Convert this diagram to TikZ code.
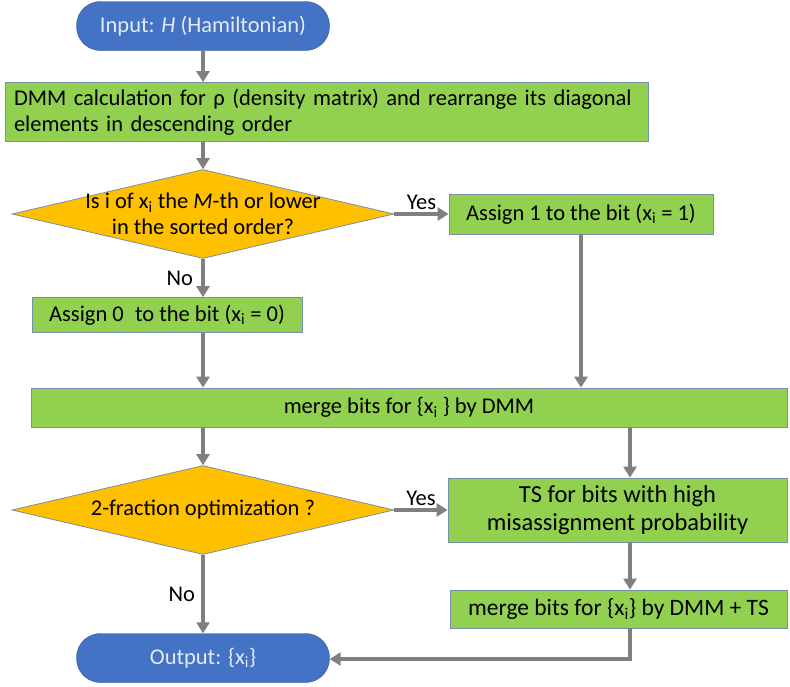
\documentclass[tikz,border=0pt]{standalone}
\usepackage{fontspec}
\setmainfont{Carlito}
\usepackage{tikz}
\usetikzlibrary{arrows.meta}
\usetikzlibrary{calc}
\usetikzlibrary{positioning}
\usetikzlibrary{shapes.geometric}

\definecolor{termblue}{HTML}{4472C4}
\definecolor{termedge}{HTML}{2F528F}
\definecolor{procgreen}{HTML}{92D050}
\definecolor{decorange}{HTML}{FFC000}
\definecolor{boxedge}{HTML}{7890A8}
\definecolor{arrowgray}{HTML}{808080}
\definecolor{termtext}{HTML}{E4EBF7}

\begin{document}
\begin{tikzpicture}[>={Triangle[width=13pt,length=11pt]}, on grid,
  font=\fontsize{22.5pt}{26pt}\selectfont,
  term/.style ={rectangle,rounded corners=24pt,draw=termedge,fill=termblue,text=termtext,minimum width=253pt,minimum height=49pt},
  proc/.style ={rectangle,draw=boxedge,line width=0.8pt,fill=procgreen,text=black,inner sep=0pt},
  decision/.style ={diamond,draw=boxedge,line width=0.8pt,fill=decorange,minimum width=382pt,minimum height=89pt,inner sep=0pt},
  flow/.style ={->,draw=arrowgray,line width=4pt},
  lbl/.style ={text=black,inner sep=2pt}]
\useasboundingbox (0,0) rectangle (790pt,-686pt);
\node[term] (input) at (203pt,-26pt) {Input: \textit{H} (Hamiltonian)};
\node[proc, minimum width=643pt, minimum height=59pt, text width=625pt, align=left] (dmm) [below right=86pt and 123.5pt of input]
  {DMM calculation for ρ (density matrix) and rearrange its diagonal\\elements in descending order};
\node[decision] (q1) [below=188pt of input] {};
\node[align=center, inner sep=0pt] (q1txt) at (q1) {Is i of x\textsubscript{i} the \textit{M}-th or lower\\in the sorted order?};
\node[proc, minimum width=264pt, minimum height=40pt] (one) [right=378pt of q1] {Assign 1 to the bit (x\textsubscript{i} = 1)};
\node[proc, minimum width=270pt, minimum height=35pt] (zero) [below left=101pt and 36pt of q1] {Assign 0\enspace to the bit (x\textsubscript{i} = 0)};
\node[proc, minimum width=756pt, minimum height=39pt] (merge) [below right=193.5pt and 206pt of q1] {merge bits for \{x\textsubscript{i} \} by DMM};
\node[decision] (q2) [below=296pt of q1] {};
\node[inner sep=0pt] (q2txt) at (q2) {2-fraction optimization ?};
\node[proc, minimum width=339pt, minimum height=64pt, align=center, font=\fontsize{24.5pt}{28pt}\selectfont] (ts) [right=414.5pt of q2] {TS for bits with high\\misassignment probability};
\node[proc, minimum width=337pt, minimum height=38pt, font=\fontsize{23.5pt}{26pt}\selectfont] (merge2) [below right=99pt and 1pt of ts] {merge bits for \{x\textsubscript{i}\} by DMM + TS};
\node[term] (output) [below=148pt of q2] {Output: \{x\textsubscript{i}\}};
\coordinate[right=427pt of q2] (rcol);
%left column
\draw[flow] (input.south) -- (input |- dmm.north);
\draw[flow] (input |- dmm.south) -- (q1.north);
\draw[flow] (q1.east) -- node[lbl, above, pos=0.5] {Yes} (one.west);
\draw[flow] (q1.south) -- node[lbl, left, xshift=-6pt] {No} (input |- zero.north);
\draw[flow] (input |- zero.south) -- (input |- merge.north);
\draw[flow] (one.south) -- (one.south |- merge.north);
\draw[flow] (input |- merge.south) -- (q2.north);
%right column
\draw[flow] (rcol |- merge.south) -- (rcol |- ts.north);
\draw[flow] (q2.east) -- node[lbl, above, pos=0.5] {Yes} (q2.east -| ts.west);
\draw[flow] (rcol |- ts.south) -- (rcol |- merge2.north);
\draw[flow] (q2.south) -- node[lbl, left, xshift=-4pt] {No} (output.north);
\draw[flow] (rcol |- merge2.south) -- ($(rcol |- output)+(0,-1pt)$) -- ($(output.east)+(0,-1pt)$);
\end{tikzpicture}
\end{document}
